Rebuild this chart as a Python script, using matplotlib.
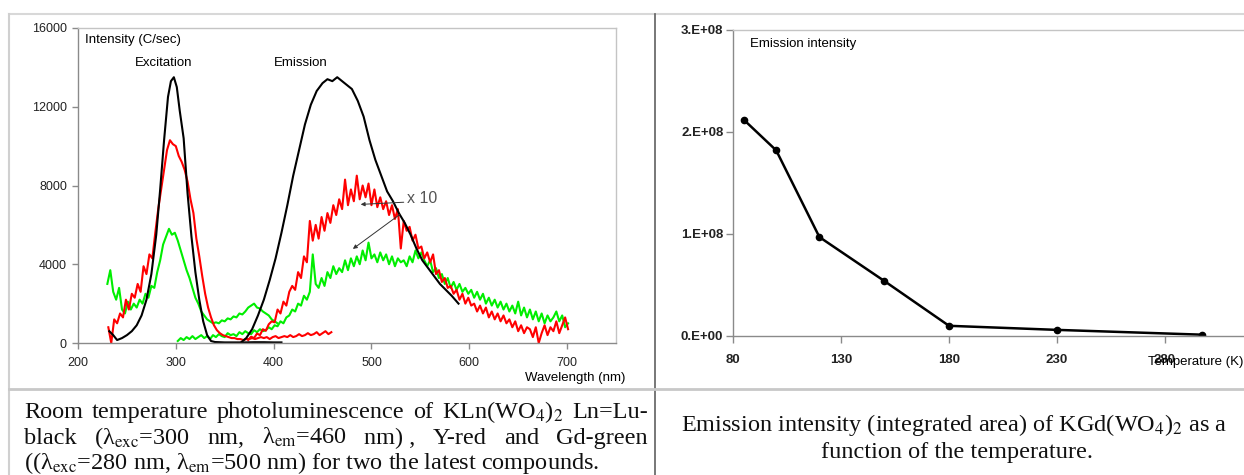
import numpy as np
import matplotlib
matplotlib.use("Agg")
import matplotlib.pyplot as plt
from matplotlib.lines import Line2D

# ---- left panel: photoluminescence spectra (intensity, C/sec) ----
black_ex_wl = [232, 236, 240, 245, 250, 255, 260, 265, 270, 275,
               280, 284, 288, 292, 295, 298, 301, 304, 308, 312,
               316, 320, 324, 328, 332, 336, 340, 350, 360, 370,
               380, 390, 400, 408]
black_ex = [600, 400, 150, 250, 400, 600, 900, 1400, 2200, 3500,
            5500, 7800, 10300, 12500, 13300, 13500, 13000, 11800, 10400, 7600,
            5400, 3600, 2200, 1100, 400, 100, 50, 30, 30, 30,
            40, 40, 30, 30]

black_em_wl = [366, 372, 378, 384, 390, 396, 402, 408, 414, 420,
               426, 432, 438, 444, 450, 455, 460, 465, 470, 475,
               480, 486, 492, 498, 504, 510, 516, 522, 528, 534,
               540, 546, 552, 558, 564, 570, 576, 582, 589]
black_em = [0, 250, 700, 1400, 2200, 3200, 4300, 5600, 7000, 8500,
            9800, 11100, 12100, 12800, 13200, 13400, 13300, 13500, 13300, 13100,
            12900, 12300, 11500, 10300, 9300, 8500, 7700, 7200, 6600, 6100,
            5500, 4800, 4200, 3800, 3400, 3000, 2700, 2400, 2000]

red_ex_wl = np.arange(231, 460, 3)
red_ex = [800, 0, 1200, 1000, 1500, 1300, 2200, 1700, 2500, 2300,
          3000, 2600, 3900, 3500, 4500, 4300, 5600, 6800, 7800, 8800,
          9800, 10300, 10100, 10000, 9500, 9200, 8800, 8200, 7300, 6600,
          5300, 4400, 3400, 2500, 1800, 1300, 900, 650, 500, 400,
          350, 300, 250, 250, 200, 200, 150, 200, 200, 250,
          200, 250, 300, 250, 300, 200, 300, 350, 250, 300,
          350, 300, 400, 300, 350, 450, 350, 400, 500, 400,
          450, 550, 400, 500, 600, 450, 550]

red_em_wl = np.arange(374, 702, 3)
red_em = [150, 320, 250, 480, 400, 700, 620, 950, 1100, 1050,
          1700, 1500, 2100, 1900, 2600, 2900, 2700, 3600, 3300, 4400,
          4100, 6200, 5200, 6000, 5300, 6400, 5700, 6600, 6100, 7000,
          6500, 7300, 6800, 8300, 7000, 7800, 7200, 8500, 7300, 8000,
          7400, 8100, 7000, 7800, 6900, 7400, 6800, 7200, 6500, 7000,
          6300, 6800, 4800, 6200, 5700, 5900, 5200, 5500, 4800, 4900,
          4300, 4600, 4100, 4500, 3500, 3700, 3100, 3300, 2800, 2900,
          2500, 2700, 2200, 2500, 2000, 2300, 1900, 2000, 1600, 1900,
          1500, 1800, 1300, 1600, 1200, 1500, 1100, 1400, 1000, 1200,
          800, 1100, 600, 900, 500, 800, 700, 300, 800, 0,
          500, 900, 400, 800, 600, 1100, 500, 900, 1300, 700]

green_ex_wl = np.arange(230, 405, 3)
green_ex = [3000, 3700, 2600, 2200, 2800, 1700, 1500, 2100, 1700, 2000,
            1800, 2200, 2000, 2500, 2300, 2900, 2800, 3600, 4200, 5000,
            5400, 5800, 5500, 5600, 5200, 4700, 4200, 3700, 3300, 2800,
            2300, 2000, 1600, 1400, 1200, 1100, 1000, 1050, 1000, 1150,
            1100, 1250, 1200, 1350, 1300, 1500, 1450, 1600, 1800, 1900,
            2000, 1800, 1750, 1600, 1500, 1400, 1200, 1100, 1000]

green_em_wl = np.arange(302, 702, 3)
green_em = [100, 250, 150, 300, 200, 350, 200, 300, 400, 250,
            350, 200, 400, 300, 450, 350, 300, 500, 400, 450,
            350, 550, 450, 600, 500, 450, 650, 550, 700, 600,
            650, 800, 700, 900, 850, 1100, 1000, 1300, 1400, 1700,
            1600, 2000, 1900, 2400, 2200, 2600, 4500, 3000, 2800, 3300,
            2900, 3600, 3300, 3900, 3500, 3800, 3600, 4200, 3700, 4300,
            3900, 4400, 4000, 4700, 4200, 5100, 4300, 4500, 4100, 4600,
            4200, 4500, 4000, 4400, 3900, 4300, 4100, 4200, 3900, 4400,
            4100, 4700, 4300, 4600, 4200, 3900, 4200, 3600, 3800, 3300,
            3500, 3000, 3300, 2800, 3100, 2700, 3000, 2600, 2800, 2500,
            2700, 2300, 2600, 2200, 2500, 2000, 2300, 1900, 2200, 1800,
            2100, 1700, 2000, 1600, 1900, 1500, 2100, 1400, 1800, 1300,
            1700, 1200, 1600, 1100, 1500, 1000, 1400, 1100, 1300, 1600,
            1100, 1400, 800, 1000]

wl_ticks = [200, 300, 400, 500, 600, 700]
int_ticks = [0, 4000, 8000, 12000, 16000]

# ---- right panel: emission intensity vs temperature ----
temperature = [85, 100, 120, 150, 180, 230, 297]
emission = [2.12e8, 1.82e8, 0.97e8, 0.54e8, 0.10e8, 0.06e8, 0.013e8]
t_ticks = [80, 130, 180, 230, 280]
e_ticks = [0, 1e8, 2e8, 3e8]
e_labels = ["0.E+00", "1.E+08", "2.E+08", "3.E+08"]

plt.rcParams['font.family'] = ['Liberation Sans', 'DejaVu Sans']
plt.rcParams['mathtext.fontset'] = 'stix'

W, H = 1244, 475
fig = plt.figure(figsize=(W / 100, H / 100), dpi=100)


def fx(px):
    return px / W


def fy(py):
    return 1 - py / H


def style_axes(ax):
    for s in ['top', 'right']:
        ax.spines[s].set_color('#c4c4c4')
    for s in ['left', 'bottom']:
        ax.spines[s].set_color('#8a8a8a')
    for s in ax.spines.values():
        s.set_linewidth(1.0)
    ax.tick_params(direction='out', length=4, width=1, color='#8a8a8a',
                   labelcolor='#222222')


txt = 9.5

# left axes
ax1 = fig.add_axes([fx(78), fy(343), fx(616) - fx(78), fy(28) - fy(343)])
lw = 1.5
ax1.plot(green_em_wl, green_em, color='#00ee00', lw=lw)
ax1.plot(green_ex_wl, green_ex, color='#00ee00', lw=lw)
ax1.plot(red_em_wl, red_em, color='#ff0000', lw=lw)
ax1.plot(red_ex_wl, red_ex, color='#ff0000', lw=lw)
ax1.plot(black_ex_wl, black_ex, color='black', lw=lw)
ax1.plot(black_em_wl, black_em, color='black', lw=lw)
ax1.set_xlim(200, 750)
ax1.set_ylim(0, 16000)
ax1.set_xticks(wl_ticks)
ax1.set_yticks(int_ticks)
style_axes(ax1)
ax1.tick_params(labelsize=9)
ax1.tick_params(axis='x', pad=6)
ax1.tick_params(axis='y', pad=4)
ax1.text(207, 15400, "Intensity (C/sec)", fontsize=txt, va='center', ha='left')
ax1.text(288, 14200, "Excitation", fontsize=txt, va='center', ha='center')
ax1.text(428, 14200, "Emission", fontsize=txt, va='center', ha='center')
ax1.text(536, 7350, "x 10", fontsize=11.5, color='#555555', va='center', ha='left')
ax1.annotate("", xy=(489, 7040), xytext=(533, 7150),
             arrowprops=dict(arrowstyle='-|>', color='#333333', lw=0.7,
                             mutation_scale=6, shrinkA=0, shrinkB=0))
ax1.annotate("", xy=(481, 4780), xytext=(529, 6530),
             arrowprops=dict(arrowstyle='-|>', color='#333333', lw=0.7,
                             mutation_scale=6, shrinkA=0, shrinkB=0))
ax1.text(760, -1780, "Wavelength (nm)", fontsize=txt, ha='right', va='center',
         clip_on=False)

# right axes
ax2 = fig.add_axes([fx(733), fy(336), fx(1273) - fx(733), fy(30) - fy(336)])
ax2.plot(temperature, emission, color='black', lw=1.8, marker='o', ms=4.5)
ax2.set_xlim(80, 330)
ax2.set_ylim(0, 3e8)
ax2.set_xticks(t_ticks)
ax2.set_yticks(e_ticks)
ax2.set_yticklabels(e_labels)
style_axes(ax2)
ax2.tick_params(labelsize=9.5, length=5)
ax2.tick_params(axis='x', pad=8)
ax2.tick_params(axis='y', pad=2)
for lab in ax2.get_xticklabels() + ax2.get_yticklabels():
    lab.set_fontweight('bold')
ax2.text(88, 2.86e8, "Emission intensity", fontsize=txt, va='center', ha='left')
ax2.text(272, -0.255e8, "Temperature (K)", fontsize=txt, va='center', ha='left',
         clip_on=False)

# table borders
fig.add_artist(Line2D([fx(9), fx(1244)], [fy(14), fy(14)], color='#d8d8d8', lw=1.5))
fig.add_artist(Line2D([fx(9), fx(9)], [fy(14), fy(475)], color='#d0d0d0', lw=1.5))
fig.add_artist(Line2D([fx(655), fx(655)], [fy(14), fy(475)], color='#606060', lw=1.2))
fig.add_artist(Line2D([fx(9), fx(1244)], [fy(389), fy(389)], color='#c8c8c8', lw=2.0))

# captions
cap_font = dict(family=['Liberation Serif', 'DejaVu Serif'], fontsize=17.5,
                color='#111111', va='baseline')
renderer = fig.canvas.get_renderer()


def justify(words, x0, x1, y):
    texts = [fig.text(0, fy(y), w, **cap_font) for w in words]
    widths = [t.get_window_extent(renderer).width for t in texts]
    gap = ((x1 - x0) - sum(widths)) / (len(words) - 1)
    x = x0
    for t, w in zip(texts, widths):
        t.set_x(fx(x))
        x += w + gap


justify(["Room", "temperature", "photoluminescence", "of",
         "KLn(WO$_4$)$_2$", "Ln=Lu-"], 24, 648, 418)
justify(["black", "(λ$_{\\rm exc}$=300", "nm,", "λ$_{\\rm em}$=460",
         "nm) ,", "Y-red", "and", "Gd-green"], 24, 648, 444)
fig.text(fx(24), fy(469), "((λ$_{\\rm exc}$=280 nm, λ$_{\\rm em}$=500 nm) for two the latest compounds.",
         ha='left', **cap_font)
fig.text(fx(954), fy(431), "Emission intensity (integrated area) of KGd(WO$_4$)$_2$ as a",
         ha='center', **cap_font)
fig.text(fx(957), fy(458), "function of the temperature.", ha='center', **cap_font)

fig.savefig("out.png", dpi=100)
